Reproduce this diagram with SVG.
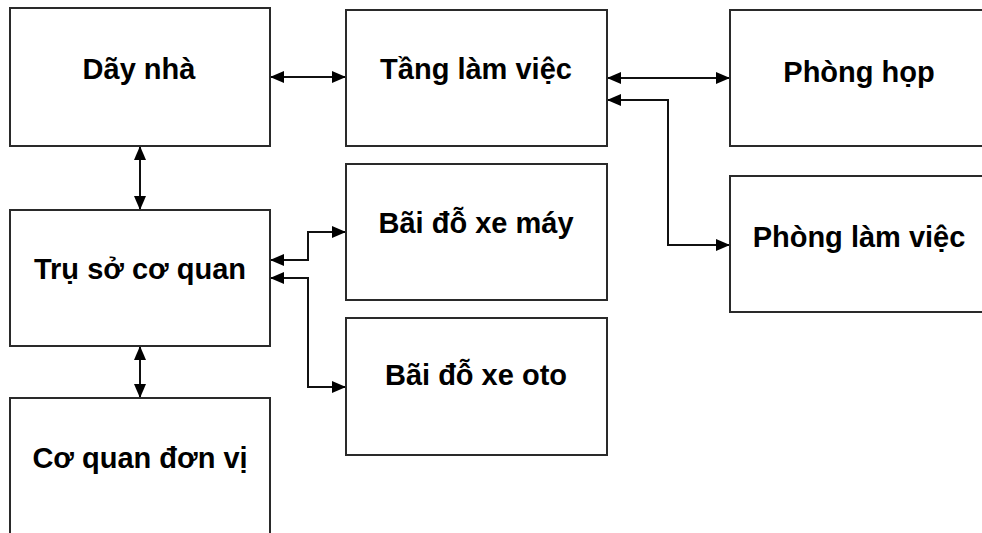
<svg xmlns="http://www.w3.org/2000/svg" width="982" height="533" viewBox="0 0 982 533">
<defs>
<marker id="ah" viewBox="0 0 14 12" refX="13" refY="6" markerWidth="14" markerHeight="12" markerUnits="userSpaceOnUse" orient="auto-start-reverse">
<path d="M0,0 L14,6 L0,12 Z" fill="#000"/>
</marker>
<style>
.box{fill:#fff;stroke:#2a2a2a;stroke-width:2}
.lbl{font-family:"Liberation Sans",Arial,"DejaVu Sans",sans-serif;font-weight:bold;font-size:29px;fill:#000;text-anchor:middle}
.con{fill:none;stroke:#111;stroke-width:2}
</style>
</defs>
<rect width="982" height="533" fill="#fff"/>
<g id="connectors">
<path class="con" d="M271,77 L345,77" marker-start="url(#ah)" marker-end="url(#ah)"/>
<path class="con" d="M140,147 L140,209" marker-start="url(#ah)" marker-end="url(#ah)"/>
<path class="con" d="M140,347 L140,397" marker-start="url(#ah)" marker-end="url(#ah)"/>
<path class="con" d="M608,78 L729,78" marker-start="url(#ah)" marker-end="url(#ah)"/>
<path class="con" d="M608,100 L668,100 L668,245 L729,245" marker-start="url(#ah)" marker-end="url(#ah)"/>
<path class="con" d="M271,260 L308,260 L308,232 L345,232" marker-start="url(#ah)" marker-end="url(#ah)"/>
<path class="con" d="M271,278 L308,278 L308,387 L345,387" marker-start="url(#ah)" marker-end="url(#ah)"/>
</g>
<g id="day-nha"><rect class="box" x="10" y="8" width="260" height="138"/><text class="lbl" x="139" y="79">Dãy nhà</text></g>
<g id="tang-lam-viec"><rect class="box" x="346" y="10" width="261" height="136"/><text class="lbl" x="476" y="79">Tầng làm việc</text></g>
<g id="phong-hop"><rect class="box" x="730" y="10" width="262" height="136"/><text class="lbl" x="859" y="82">Phòng họp</text></g>
<g id="phong-lam-viec"><rect class="box" x="730" y="176" width="262" height="136"/><text class="lbl" x="859" y="247">Phòng làm việc</text></g>
<g id="tru-so"><rect class="box" x="10" y="210" width="260" height="136"/><text class="lbl" x="140" y="279">Trụ sở cơ quan</text></g>
<g id="bai-xe-may"><rect class="box" x="346" y="164" width="261" height="136"/><text class="lbl" x="476" y="233">Bãi đỗ xe máy</text></g>
<g id="bai-xe-oto"><rect class="box" x="346" y="318" width="261" height="137"/><text class="lbl" x="476" y="385">Bãi đỗ xe oto</text></g>
<g id="co-quan-don-vi"><rect class="box" x="10" y="398" width="260" height="145"/><text class="lbl" x="140" y="468">Cơ quan đơn vị</text></g>
</svg>
